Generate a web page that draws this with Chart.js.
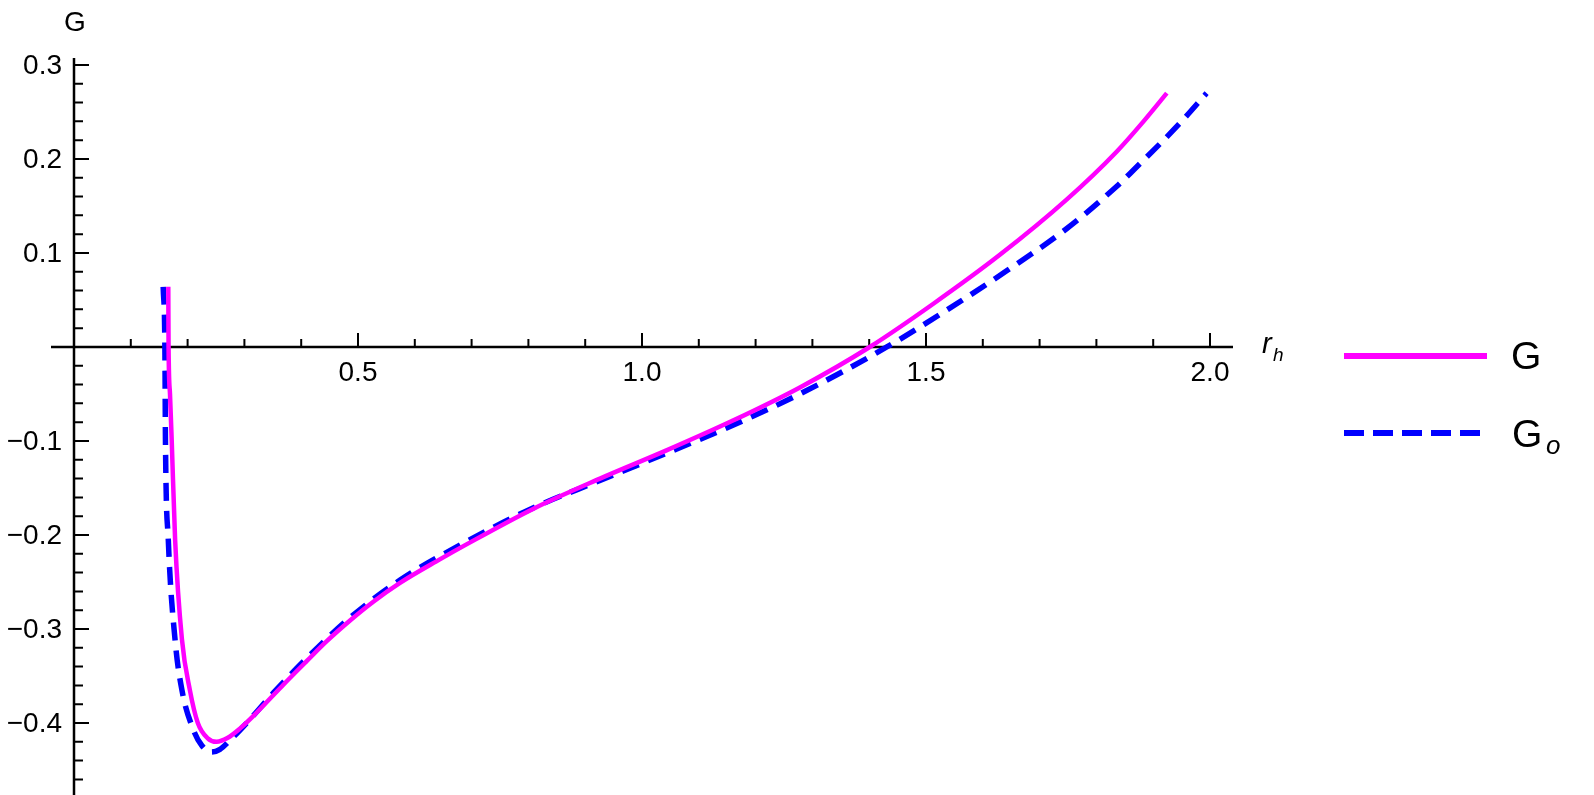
<!DOCTYPE html>
<html>
<head>
<meta charset="utf-8">
<script src="https://cdn.jsdelivr.net/npm/chart.js@4.4.0/dist/chart.umd.min.js"></script>
<style>
  html, body { margin: 0; padding: 0; background: #fff; }
  canvas { display: block; }
</style>
</head>
<body>
<canvas id="chart" width="1594" height="795"></canvas>
<script>
// G (solid magenta)
const gX = [0.166, 0.1665, 0.169, 0.172, 0.178, 0.190, 0.204, 0.218, 0.235, 0.251, 0.270, 0.292, 0.315, 0.339,
            0.369, 0.410, 0.445, 0.486, 0.527, 0.574, 0.644, 0.691, 0.809, 0.926, 1.043, 1.161, 1.278, 1.401,
            1.513, 1.630, 1.748, 1.836, 1.883, 1.924];
const gY = [0.064, 0.0, -0.050, -0.099, -0.205, -0.311, -0.365, -0.400, -0.416, -0.420, -0.416, -0.406, -0.393, -0.378,
            -0.359, -0.334, -0.313, -0.291, -0.271, -0.251, -0.226, -0.210, -0.172, -0.140, -0.110, -0.078, -0.043, 0.0,
            0.046, 0.098, 0.157, 0.208, 0.240, 0.270];

// G_o (dashed blue)
const goX = [0.157, 0.160, 0.161, 0.166, 0.178, 0.190, 0.210, 0.225, 0.242, 0.257, 0.272, 0.310, 0.351, 0.410,
             0.486, 0.574, 0.691, 0.809, 0.926, 1.043, 1.161, 1.278, 1.431, 1.536, 1.642, 1.748, 1.836, 1.865,
             1.947, 1.994];
const goY = [0.064, 0.0, -0.099, -0.205, -0.312, -0.365, -0.407, -0.424, -0.431, -0.428, -0.420, -0.396, -0.368, -0.331,
             -0.288, -0.248, -0.207, -0.171, -0.142, -0.113, -0.083, -0.050, 0.0, 0.039, 0.081, 0.126, 0.171, 0.188,
             0.238, 0.270];

const xTicks = [0.5, 1.0, 1.5, 2.0];
const xTickLabels = ['0.5', '1.0', '1.5', '2.0'];
const yTicks = [0.3, 0.2, 0.1, -0.1, -0.2, -0.3, -0.4];
const yTickLabels = ['0.3', '0.2', '0.1', '\u22120.1', '\u22120.2', '\u22120.3', '\u22120.4'];
const seriesNames = ['G', 'G'];

const toPoints = (xs, ys) => xs.map((x, i) => ({ x: x, y: ys[i] }));

const FONT = '"Liberation Sans", Arial, sans-serif';

const axesPlugin = {
  id: 'mathAxes',
  beforeDatasetsDraw(chart) {
    const ctx = chart.ctx;
    const xs = chart.scales.x, ys = chart.scales.y;
    const area = chart.chartArea;
    const x0 = xs.getPixelForValue(0);
    const y0 = ys.getPixelForValue(0);
    ctx.save();
    ctx.strokeStyle = '#000';
    ctx.lineWidth = 2.5;
    ctx.beginPath();
    ctx.moveTo(area.left, y0);
    ctx.lineTo(area.right, y0);
    ctx.moveTo(x0, area.top);
    ctx.lineTo(x0, area.bottom);
    ctx.stroke();

    // x ticks (minor every 0.1)
    ctx.lineWidth = 2;
    ctx.beginPath();
    for (let i = 1; i <= 20; i++) {
      const p = xs.getPixelForValue(i / 10);
      const len = (i % 5 === 0) ? 14 : 8;
      ctx.moveTo(p, y0);
      ctx.lineTo(p, y0 - len);
    }
    // y ticks (minor every 0.02)
    for (let i = -23; i <= 15; i++) {
      if (i === 0) continue;
      const p = ys.getPixelForValue(i / 50);
      const len = (i % 5 === 0) ? 15 : 9;
      ctx.moveTo(x0, p);
      ctx.lineTo(x0 + len, p);
    }
    ctx.stroke();

    ctx.fillStyle = '#000';
    ctx.font = '28px ' + FONT;
    ctx.textAlign = 'center';
    ctx.textBaseline = 'middle';
    xTicks.forEach((v, i) => {
      ctx.fillText(xTickLabels[i], xs.getPixelForValue(v), y0 + 26);
    });
    ctx.textAlign = 'right';
    yTicks.forEach((v, i) => {
      ctx.fillText(yTickLabels[i], x0 - 12, ys.getPixelForValue(v) + 1);
    });

    // axis labels
    ctx.textAlign = 'center';
    ctx.fillText('G', x0 + 1, 23);
    ctx.textAlign = 'left';
    ctx.textBaseline = 'alphabetic';
    ctx.font = 'italic 29px ' + FONT;
    ctx.fillText('r', 1262, 353);
    ctx.font = 'italic 19px ' + FONT;
    ctx.fillText('h', 1273, 361);
    ctx.restore();
  },
  afterDraw(chart) {
    const ctx = chart.ctx;
    const sets = chart.data.datasets;
    ctx.save();
    const rows = [356, 433];
    sets.forEach((ds, i) => {
      ctx.strokeStyle = ds.borderColor;
      ctx.lineWidth = 6;
      ctx.setLineDash(ds.borderDash ? [20, 9] : []);
      ctx.beginPath();
      ctx.moveTo(1344, rows[i]);
      ctx.lineTo(1487, rows[i]);
      ctx.stroke();
    });
    ctx.setLineDash([]);
    ctx.fillStyle = '#000';
    ctx.textAlign = 'left';
    ctx.textBaseline = 'alphabetic';
    ctx.font = '39px ' + FONT;
    ctx.fillText(seriesNames[0], 1511, 369);
    ctx.fillText(seriesNames[1], 1512, 447);
    ctx.font = 'italic 26px ' + FONT;
    ctx.fillText('o', 1546, 454);
    ctx.restore();
  }
};

new Chart(document.getElementById('chart'), {
  type: 'scatter',
  data: {
    datasets: [
      {
        label: 'G',
        data: toPoints(gX, gY),
        showLine: true,
        borderColor: '#ff00ff',
        borderWidth: 4.5,
        pointRadius: 0,
        cubicInterpolationMode: 'monotone'
      },
      {
        label: 'G_o',
        data: toPoints(goX, goY),
        showLine: true,
        borderColor: '#0000ff',
        borderWidth: 5.5,
        borderDash: [18, 10],
        pointRadius: 0,
        cubicInterpolationMode: 'monotone'
      }
    ]
  },
  options: {
    responsive: false,
    animation: false,
    devicePixelRatio: 1,
    layout: { padding: { left: 51, right: 361, top: 58, bottom: 0 } },
    plugins: {
      legend: { display: false },
      tooltip: { enabled: false }
    },
    scales: {
      x: { type: 'linear', display: false, min: -0.0405, max: 2.0405 },
      y: { type: 'linear', display: false, min: -0.4766, max: 0.3074 }
    }
  },
  plugins: [axesPlugin]
});
</script>
</body>
</html>
